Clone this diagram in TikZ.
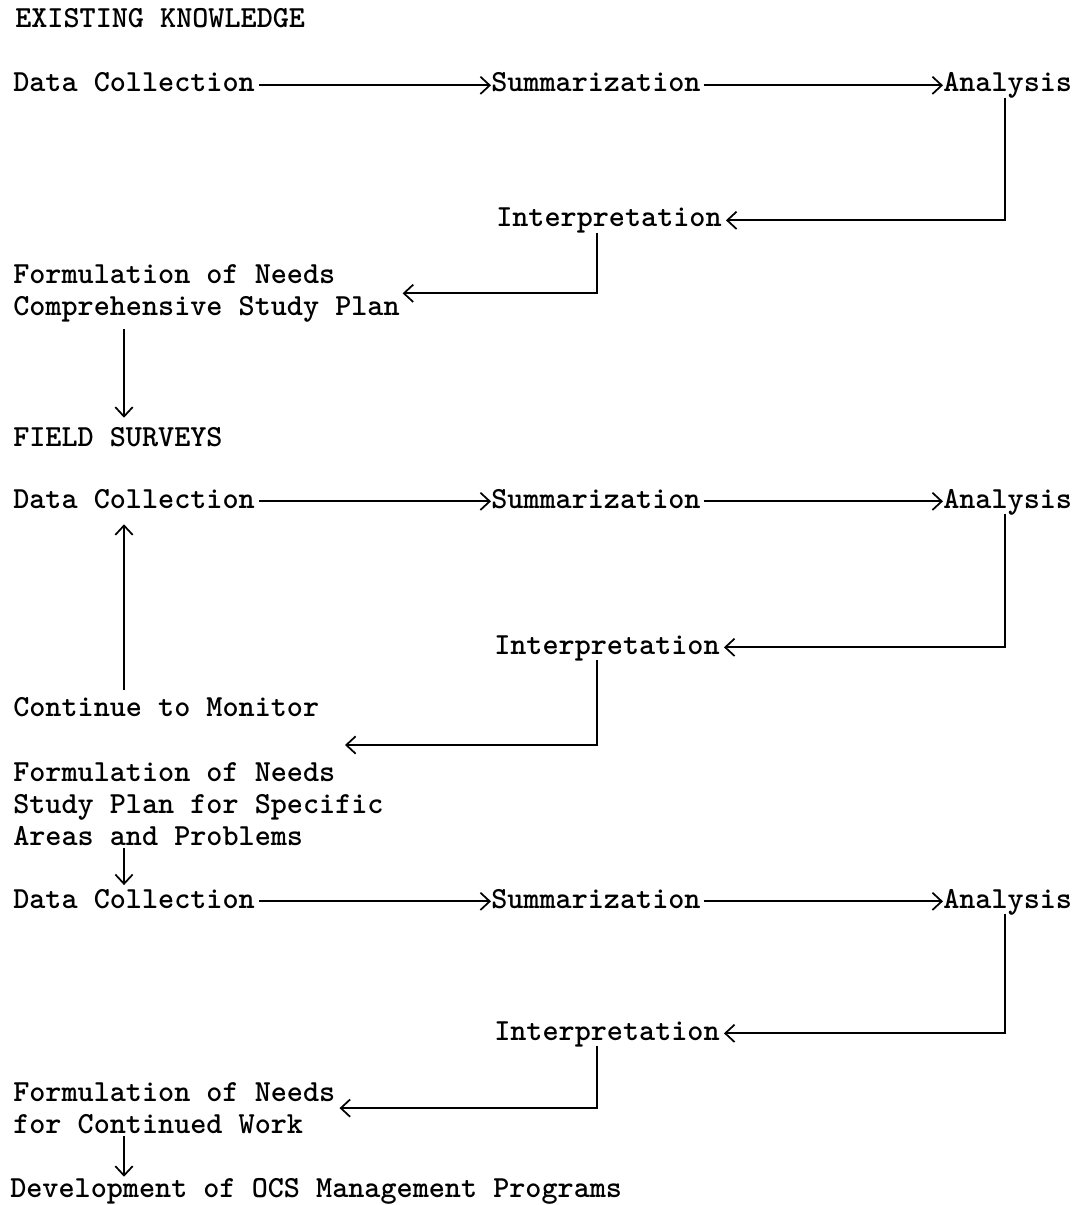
\documentclass[tikz,border=0pt]{standalone}
\usetikzlibrary{arrows.meta}
\begin{document}
\begin{tikzpicture}[x=0.75pt,y=-0.75pt,
  txt/.style={font=\ttfamily\bfseries\fontsize{23pt}{24.3pt}\selectfont, inner sep=0pt, text height=14pt, text depth=4pt, anchor=base west},
  mtxt/.style={font=\ttfamily\bfseries\fontsize{23pt}{24.3pt}\selectfont, inner sep=0pt, align=left, anchor=north west},
  arr/.style={-{Straight Barb[length=7pt,width=13pt]}, line width=1.3pt}]
\useasboundingbox (0,0) rectangle (1080,1205);
\fill[white] (0,0) rectangle (1080,1205);
\coordinate (colL) at (124,0);
\coordinate (colP) at (597,0);
\coordinate (colR) at (1005,0);
% section 1
\node[txt] (t1) at (15,28) {EXISTING KNOWLEDGE};
\node[txt] (dc1) at (13,92) {Data Collection};
\node[txt] (sum1) at (491,92) {Summarization};
\node[txt] (an1) at (943,92) {Analysis};
\node[txt] (int1) at (496,227) {Interpretation};
\node[mtxt] (form1) at (13,264) {Formulation of Needs\\Comprehensive Study Plan};
% section 2
\node[txt] (t2) at (13,446) {FIELD SURVEYS};
\node[txt] (dc2) at (13,508) {Data Collection};
\node[txt] (sum2) at (491,508) {Summarization};
\node[txt] (an2) at (943,508) {Analysis};
\node[txt] (int2) at (494,654) {Interpretation};
\node[txt] (cont) at (13,716) {Continue to Monitor};
\coordinate (gap2) at (345,745);
\node[mtxt] (form2) at (13,762) {Formulation of Needs\\Study Plan for Specific\\Areas and Problems};
% section 3
\node[txt] (dc3) at (13,908) {Data Collection};
\node[txt] (sum3) at (491,908) {Summarization};
\node[txt] (an3) at (943,908) {Analysis};
\node[txt] (int3) at (494,1040) {Interpretation};
\node[mtxt] (form3) at (13,1082) {Formulation of Needs\\for Continued Work};
\node[txt] (dev) at (10,1197) {Development of OCS Management Programs};
% connectors section 1
\draw[arr, shorten <=3pt] (dc1.east) -- (sum1.west);
\draw[arr, shorten <=2pt] (sum1.east) -- (an1.west);
\draw[arr, shorten >=3pt] (an1.south -| colR) |- (int1.east);
\draw[arr, shorten >=2pt] (int1.south -| colP) |- (form1.east);
\draw[arr, shorten <=5pt, shorten >=7pt] (form1.south -| colL) -- (t2.north -| colL);
% connectors section 2
\draw[arr, shorten <=3pt] (dc2.east) -- (sum2.west);
\draw[arr, shorten <=2pt] (sum2.east) -- (an2.west);
\draw[arr, shorten >=3pt] (an2.south -| colR) |- (int2.east);
\draw[arr] (int2.south -| colP) |- (gap2);
\draw[arr, shorten <=5pt, shorten >=8pt] (cont.north -| colL) -- (dc2.south -| colL);
\draw[arr, shorten <=1.5pt, shorten >=3pt] (form2.south -| colL) -- (dc3.north -| colL);
% connectors section 3
\draw[arr, shorten <=3pt] (dc3.east) -- (sum3.west);
\draw[arr, shorten <=2pt] (sum3.east) -- (an3.west);
\draw[arr, shorten >=3pt] (an3.south -| colR) |- (int3.east);
\draw[arr, shorten >=3pt] (int3.south -| colP) |- (form3.east);
\draw[arr, shorten <=1pt, shorten >=1pt] (form3.south -| colL) -- (dev.north -| colL);
\end{tikzpicture}
\end{document}
